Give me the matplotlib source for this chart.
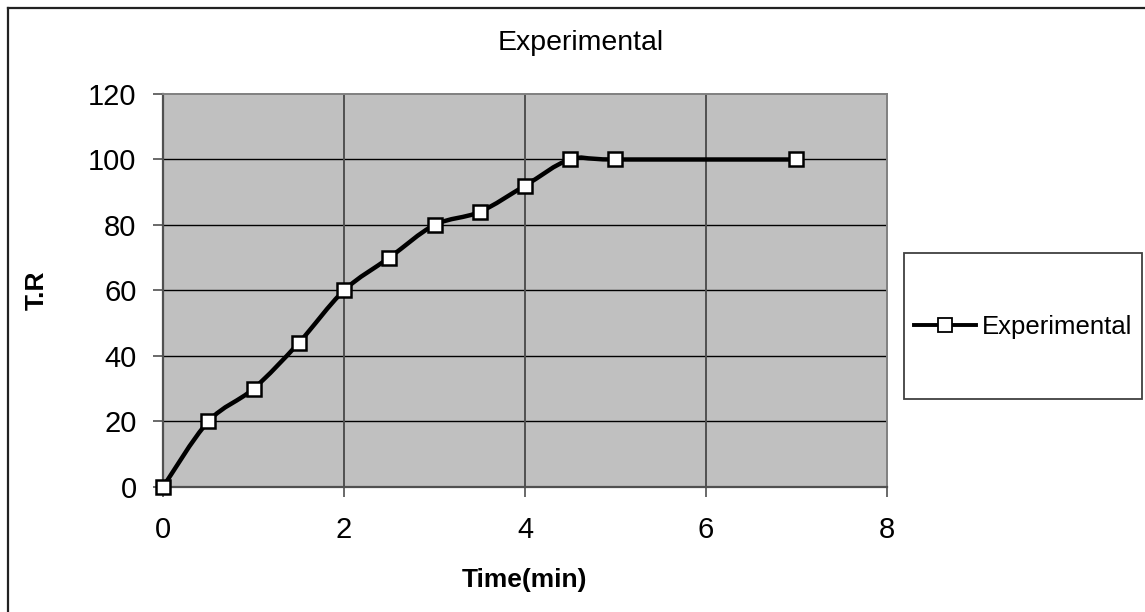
import numpy as np
import matplotlib.pyplot as plt
from matplotlib.path import Path
from matplotlib.patches import PathPatch, Rectangle
from matplotlib.lines import Line2D

plt.rcParams['font.family'] = ['Liberation Sans', 'DejaVu Sans']

# measured points
time_min = [0, 0.5, 1, 1.5, 2, 2.5, 3, 3.5, 4, 4.5, 5, 7]
tr = [0, 20, 30, 44, 60, 70, 80, 84, 92, 100, 100, 100]
x_ticks = [0, 2, 4, 6, 8]
y_ticks = [0, 20, 40, 60, 80, 100, 120]


def smooth_path(xs, ys):
    # Catmull-Rom style bezier through every point (like a spreadsheet "smoothed line")
    pts = np.column_stack([xs, ys]).astype(float)
    n = len(pts)
    verts = [pts[0]]
    codes = [Path.MOVETO]
    for i in range(n - 1):
        p0 = pts[max(i - 1, 0)]
        p1 = pts[i]
        p2 = pts[i + 1]
        p3 = pts[min(i + 2, n - 1)]
        c1 = p1 + (p2 - p0) / 6.0
        c2 = p2 - (p3 - p1) / 6.0
        verts += [c1, c2, p2]
        codes += [Path.CURVE4] * 3
    return Path(verts, codes)


fig = plt.figure(figsize=(11.45, 6.12), dpi=100)
ax = fig.add_axes([0.14236, 0.20425, 0.63231, 0.64216])
ax.set_facecolor('#c0c0c0')

ax.set_xlim(0, 8)
ax.set_ylim(0, 120)
ax.set_xticks(x_ticks)
ax.set_yticks(y_ticks)

# gridlines: horizontal black, vertical dark gray
for yv in y_ticks[1:-1]:
    ax.axhline(yv, color='black', lw=1.0, zorder=1)
for xv in x_ticks[1:-1]:
    ax.axvline(xv, color='#505050', lw=1.4, zorder=1)

# smoothed curve + square markers
curve = PathPatch(smooth_path(time_min, tr), facecolor='none', edgecolor='black',
                  lw=3.2, zorder=3, capstyle='round', joinstyle='round')
ax.add_patch(curve)
ax.plot(time_min, tr, ls='none', marker='s', markersize=10.5, markerfacecolor='white',
        markeredgecolor='black', markeredgewidth=1.8, zorder=4, clip_on=False)

for side in ['left', 'bottom']:
    ax.spines[side].set_color('#505050')
    ax.spines[side].set_linewidth(1.6)
for side in ['top', 'right']:
    ax.spines[side].set_color('#808080')
    ax.spines[side].set_linewidth(1.4)

ax.tick_params(axis='both', direction='out', length=7, width=1.2, color='#505050',
               labelsize=21)
ax.tick_params(axis='x', pad=14)
ax.tick_params(axis='y', pad=12)

ax.set_xlabel('Time(min)', fontsize=19, fontweight='bold')
ax.xaxis.set_label_coords(0.5, -0.205)
ax.set_ylabel('T.R', fontsize=19, fontweight='bold')
ax.yaxis.set_label_coords(-0.158, 0.5)

fig.text(581 / 1145, 1 - 43 / 612, 'Experimental', fontsize=20.5, ha='center', va='center')

# legend box
fig.add_artist(Rectangle((904 / 1145, 1 - 399 / 612), 238 / 1145, 146 / 612,
                         transform=fig.transFigure, facecolor='white',
                         edgecolor='#404040', lw=1.3))
handle = Line2D([], [], color='black', lw=2.8, marker='s', markersize=10,
                markerfacecolor='white', markeredgecolor='black', markeredgewidth=1.3)
fig.legend([handle], ['Experimental'], loc='center left',
           bbox_to_anchor=(914 / 1145, 1 - 327 / 612), frameon=False, fontsize=18.5,
           handlelength=2.4, handletextpad=0.25, borderpad=0, borderaxespad=0)

# chart area border (top and left edges visible)
fig.add_artist(Line2D([8 / 1145, 1], [1 - 7.5 / 612] * 2, transform=fig.transFigure,
                      color='#222222', lw=1.6))
fig.add_artist(Line2D([8 / 1145] * 2, [1 - 7.5 / 612, 0], transform=fig.transFigure,
                      color='#222222', lw=1.6))

fig.savefig('out.png', dpi=100, facecolor='white')
